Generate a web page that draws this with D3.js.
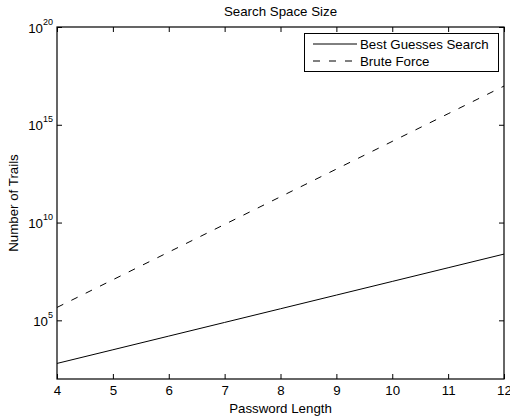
<!DOCTYPE html>
<html>
<head>
<meta charset="utf-8">
<script src="https://cdn.jsdelivr.net/npm/d3@7"></script>
<style>
  html, body { margin: 0; padding: 0; background: #fff; }
  svg { display: block; }
  text { font-family: "Liberation Sans", Arial, Helvetica, sans-serif; fill: #000; }
</style>
</head>
<body>
<svg id="chart" width="510" height="419"></svg>
<script>
// Password lengths on the x axis
const passwordLengths = [4, 5, 6, 7, 8, 9, 10, 11, 12];
// Number of trials needed for each search strategy
const bestGuesses = [625, 3125, 15625, 78125, 390625, 1953125, 9765625, 48828125, 244140625];
const bruteForce = [456976, 11881376, 308915776, 8031810176, 208827064576,
  5429503678976, 141167095653376, 3670344486987776, 95428956661682176];
const xTicks = [4, 5, 6, 7, 8, 9, 10, 11, 12];
const yTickExponents = [5, 10, 15, 20];
const seriesNames = ["Best Guesses Search", "Brute Force"];

const svg = d3.select("#chart");
const margin = { left: 57, top: 27, right: 6, bottom: 40 };
const W = 510, H = 419;
const x0 = margin.left, x1 = W - margin.right;
const y0 = margin.top, y1 = H - margin.bottom;

const x = d3.scaleLinear().domain([4, 12]).range([x0, x1]);
const y = d3.scaleLog().domain([1e2, 1e20]).range([y1, y0]);

const fontSize = 13.3;
const tickLen = 5;

// Data lines
const line = d3.line().x(d => x(d[0])).y(d => y(d[1]));
const plot = svg.append("g");
plot.append("path")
  .datum(passwordLengths.map((n, i) => [n, bestGuesses[i]]))
  .attr("d", line).attr("fill", "none").attr("stroke", "#000").attr("stroke-width", 1);
plot.append("path")
  .datum(passwordLengths.map((n, i) => [n, bruteForce[i]]))
  .attr("d", line).attr("fill", "none").attr("stroke", "#000").attr("stroke-width", 1)
  .attr("stroke-dasharray", "7,9");

// Bottom axis (ticks point inward)
const xAxis = svg.append("g").attr("transform", `translate(0,${y1})`)
  .call(d3.axisBottom(x).tickValues(xTicks).tickSizeInner(-tickLen).tickSizeOuter(0).tickPadding(7)
    .tickFormat(d3.format("d")));
// Top axis ticks
const xTop = svg.append("g").attr("transform", `translate(0,${y0})`)
  .call(d3.axisTop(x).tickValues(xTicks).tickSizeInner(-tickLen).tickSizeOuter(0).tickFormat(""));

const yVals = yTickExponents.map(e => Math.pow(10, e));
const yAxis = svg.append("g").attr("transform", `translate(${x0},0)`)
  .call(d3.axisLeft(y).tickValues(yVals).tickSizeInner(-tickLen).tickSizeOuter(0).tickPadding(4)
    .tickFormat(""));
const yRight = svg.append("g").attr("transform", `translate(${x1},0)`)
  .call(d3.axisRight(y).tickValues(yVals).tickSizeInner(-tickLen).tickSizeOuter(0).tickFormat(""));

[xAxis, xTop, yAxis, yRight].forEach(g => {
  g.select(".domain").remove();
  g.selectAll(".tick line").attr("stroke", "#000").attr("stroke-width", 1);
});
xAxis.selectAll("text").attr("font-size", fontSize).attr("font-family", null);

// Powers-of-ten labels with superscript exponents
yAxis.selectAll(".tick").each(function(d) {
  const e = Math.round(Math.log10(d));
  const t = d3.select(this).append("text")
    .attr("x", -4).attr("y", 5).attr("text-anchor", "end")
    .attr("font-size", fontSize);
  t.append("tspan").text("10");
  t.append("tspan").attr("dy", -8).attr("font-size", 9).text(e);
});

// Plot frame
svg.append("rect").attr("x", x0).attr("y", y0)
  .attr("width", x1 - x0).attr("height", y1 - y0)
  .attr("fill", "none").attr("stroke", "#000").attr("stroke-width", 1.2);

// Titles
svg.append("text").attr("x", (x0 + x1) / 2).attr("y", 16).attr("text-anchor", "middle")
  .attr("font-size", fontSize).text("Search Space Size");
svg.append("text").attr("x", (x0 + x1) / 2).attr("y", 413).attr("text-anchor", "middle")
  .attr("font-size", fontSize).text("Password Length");
svg.append("text").attr("transform", `translate(18,${(y0 + y1) / 2}) rotate(-90)`)
  .attr("text-anchor", "middle").attr("font-size", fontSize).text("Number of Trails");

// Legend
const leg = svg.append("g");
leg.append("rect").attr("x", 304.5).attr("y", 33.5).attr("width", 194).attr("height", 38)
  .attr("fill", "#fff").attr("stroke", "#000").attr("stroke-width", 1);
const legendDash = [null, "7,9"];
seriesNames.forEach((name, i) => {
  const ly = 44 + i * 17;
  leg.append("line").attr("x1", 313).attr("x2", 357).attr("y1", ly).attr("y2", ly)
    .attr("stroke", "#000").attr("stroke-width", 1)
    .attr("stroke-dasharray", legendDash[i]);
  leg.append("text").attr("x", 360).attr("y", ly + 5).attr("font-size", fontSize).text(name);
});
</script>
</body>
</html>
